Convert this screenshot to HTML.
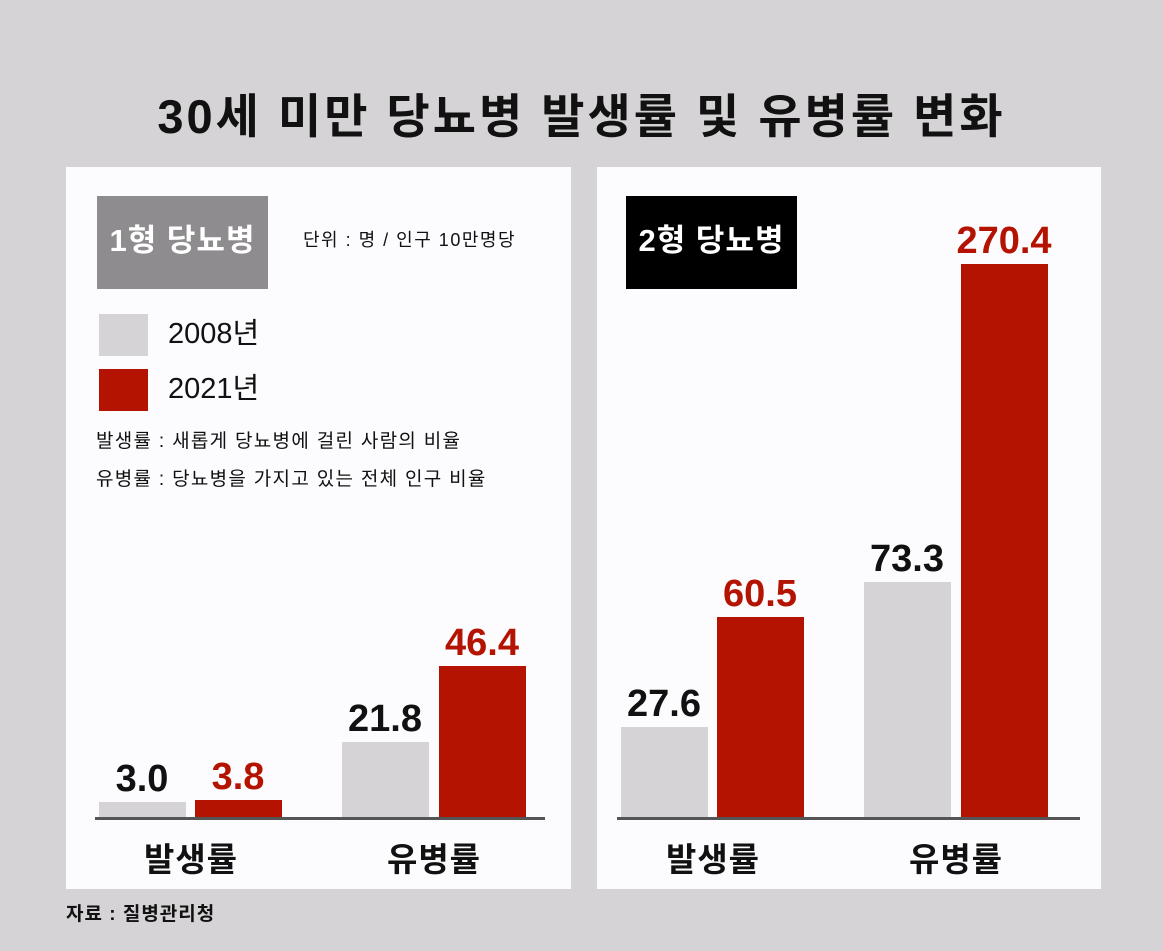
<!DOCTYPE html>
<html><head><meta charset="utf-8"><style>
*{margin:0;padding:0;box-sizing:border-box}
body{width:1163px;height:951px;background:#d5d3d5;position:relative;overflow:hidden;font-family:"Liberation Sans","Noto Sans CJK KR",sans-serif;color:#111}
.a{position:absolute}
.panel{background:#fcfbfd}
.t{position:absolute;white-space:nowrap;line-height:1}
.b{font-weight:bold}
.v{font-weight:bold;font-size:38px;width:160px;text-align:center}
.c{font-weight:bold;font-size:33px;letter-spacing:1px;width:200px;text-align:center}
.gray{background:#d5d3d5}.red{background:#b31300}
.rt{color:#b31300}
</style></head><body>
<div class="t b" style="left:0;width:1163px;text-align:center;top:93px;font-size:47px;letter-spacing:3px">30세 미만 당뇨병 발생률 및 유병률 변화</div>

<div class="a panel" style="left:66px;top:167px;width:505px;height:722px"></div>
<div class="a panel" style="left:597px;top:167px;width:504px;height:722px"></div>

<div class="a" style="left:97px;top:196px;width:171px;height:93px;background:#8e8c8e"></div>
<div class="t b" style="left:97px;width:171px;text-align:center;top:225px;font-size:31px;letter-spacing:1px;color:#fff">1형 당뇨병</div>
<div class="t" style="left:303px;top:231px;font-size:18px;letter-spacing:1.5px">단위 : 명 / 인구 10만명당</div>
<div class="a gray" style="left:99px;top:314px;width:49px;height:42px"></div>
<div class="a red" style="left:99px;top:369px;width:49px;height:42px"></div>
<div class="t" style="left:168px;top:320px;font-size:29px">2008년</div>
<div class="t" style="left:168px;top:375px;font-size:29px">2021년</div>
<div class="t" style="left:96px;top:432px;font-size:19px;letter-spacing:1.3px">발생률 : 새롭게 당뇨병에 걸린 사람의 비율</div>
<div class="t" style="left:96px;top:470px;font-size:19px;letter-spacing:1.3px">유병률 : 당뇨병을 가지고 있는 전체 인구 비율</div>

<div class="a gray" style="left:99px;top:802px;width:87px;height:16px"></div>
<div class="a red" style="left:195px;top:800px;width:87px;height:18px"></div>
<div class="a gray" style="left:342px;top:742px;width:87px;height:76px"></div>
<div class="a red" style="left:439px;top:666px;width:87px;height:152px"></div>
<div class="a" style="left:95px;top:817px;width:450px;height:3px;background:#555"></div>
<div class="t v" style="left:62px;top:760px">3.0</div>
<div class="t v rt" style="left:158px;top:758px">3.8</div>
<div class="t v" style="left:305px;top:700px">21.8</div>
<div class="t v rt" style="left:402px;top:624px">46.4</div>
<div class="t c" style="left:91px;top:843px">발생률</div>
<div class="t c" style="left:334px;top:843px">유병률</div>

<div class="a" style="left:626px;top:196px;width:171px;height:93px;background:#000"></div>
<div class="t b" style="left:626px;width:171px;text-align:center;top:225px;font-size:31px;letter-spacing:1px;color:#fff">2형 당뇨병</div>
<div class="a gray" style="left:621px;top:727px;width:87px;height:91px"></div>
<div class="a red" style="left:717px;top:617px;width:87px;height:201px"></div>
<div class="a gray" style="left:864px;top:582px;width:87px;height:236px"></div>
<div class="a red" style="left:961px;top:264px;width:87px;height:554px"></div>
<div class="a" style="left:617px;top:817px;width:463px;height:3px;background:#555"></div>
<div class="t v" style="left:584px;top:685px">27.6</div>
<div class="t v rt" style="left:680px;top:575px">60.5</div>
<div class="t v" style="left:827px;top:540px">73.3</div>
<div class="t v rt" style="left:924px;top:222px">270.4</div>
<div class="t c" style="left:613px;top:843px">발생률</div>
<div class="t c" style="left:856px;top:843px">유병률</div>

<div class="t b" style="left:66px;top:905px;font-size:19px;letter-spacing:1px">자료 : 질병관리청</div>
</body></html>
